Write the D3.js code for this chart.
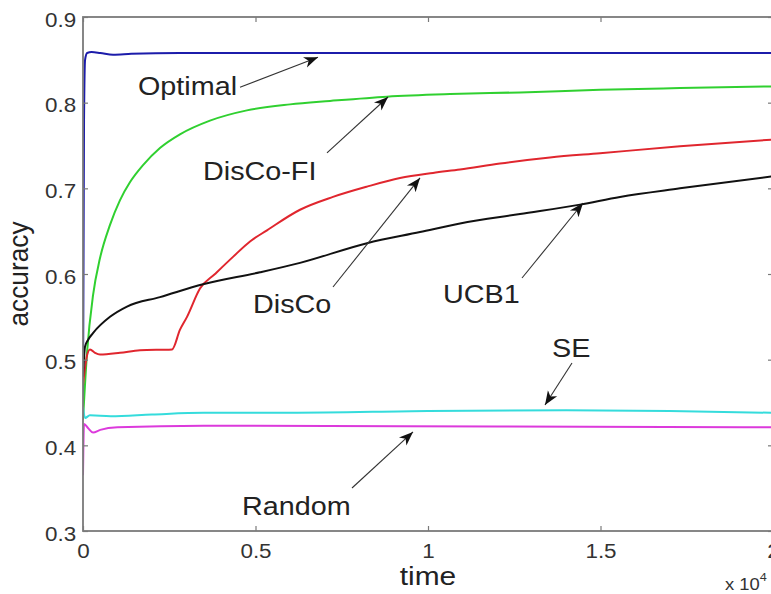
<!DOCTYPE html>
<html>
<head>
<meta charset="utf-8">
<script src="https://cdn.jsdelivr.net/npm/d3@7"></script>
<style>
  body { margin: 0; background: #fff; }
  svg { display: block; font-family: "Liberation Sans", Arial, sans-serif; }
</style>
</head>
<body>
<svg id="chart" width="771" height="594"></svg>
<script>
// values, time in raw steps (axis shows x 10^4)
const optimal = [[0,0.45],[30,0.78],[60,0.85],[120,0.858],[250,0.859],[500,0.858],[870,0.856],[1400,0.857],[2800,0.858],[20000,0.858]];
const discoFI = [[0,0.43],[120,0.51],[290,0.575],[490,0.618],[780,0.657],[1070,0.686],[1360,0.707],[1740,0.727],[2230,0.747],[2810,0.763],[3680,0.779],[4750,0.791],[6000,0.798],[7160,0.802],[8810,0.807],[10640,0.81],[12670,0.812],[14990,0.815],[17300,0.817],[20000,0.819]];
const disco = [[0,0.47],[58,0.49],[116,0.505],[203,0.512],[348,0.508],[493,0.506],[1073,0.508],[1652,0.511],[2580,0.512],[2812,0.535],[3015,0.55],[3391,0.583],[3826,0.6],[4348,0.62],[4841,0.638],[5333,0.651],[6290,0.675],[7246,0.69],[8232,0.702],[9188,0.712],[10145,0.718],[10928,0.722],[12087,0.729],[13536,0.736],[14986,0.741],[17304,0.749],[20000,0.757]];
const ucb1 = [[0,0.48],[58,0.515],[145,0.523],[290,0.531],[783,0.55],[1275,0.562],[2232,0.573],[3478,0.588],[5130,0.602],[6290,0.613],[8232,0.636],[9768,0.649],[10928,0.659],[12667,0.67],[14406,0.681],[15565,0.69],[17304,0.7],[20000,0.714]];
const se = [[0,0.445],[60,0.432],[200,0.435],[800,0.434],[2000,0.436],[3500,0.438],[6000,0.438],[10000,0.44],[14000,0.441],[17000,0.44],[20000,0.438]];
const random = [[0,0.365],[30,0.425],[150,0.42],[290,0.415],[500,0.418],[1000,0.421],[3500,0.423],[12000,0.422],[20000,0.421]];

const seriesNames = ['Optimal','DisCo-FI','DisCo','UCB1','SE','Random'];
const seriesData = [optimal, discoFI, disco, ucb1, se, random];
const seriesColors = ['#1c1caa','#30d030','#e0262e','#111111','#35dcdc','#dc3adc'];

// label anchor, arrow tail, arrow tip (data coords)
const labelPos = [[1594,0.809],[3478,0.7097],[4928,0.5545],[10435,0.5662],[13594,0.5031],[4609,0.3187]];
const arrowFrom = [[4551,0.818],[7072,0.7413],[7246,0.5848],[12725,0.5953],[14174,0.4961],[7797,0.3502]];
const arrowTo = [[6812,0.853],[8841,0.8066],[9768,0.7121],[14493,0.6829],[13391,0.4471],[9565,0.4156]];

const xTicks = [0, 5000, 10000, 15000, 20000];
const yTicks = [0.3, 0.4, 0.5, 0.6, 0.7, 0.8, 0.9];

const svg = d3.select('#chart');
const plotL = 83, plotR = 773, plotT = 17, plotB = 531;
const stretch = 1.15; // text in the figure is a bit wide

const x = d3.scaleLinear().domain([0, 20000]).range([plotL, plotR]);
const y = d3.scaleLinear().domain([0.3, 0.9]).range([plotB, plotT]);

const defs = svg.append('defs');
defs.append('clipPath').attr('id', 'clip')
  .append('rect').attr('x', plotL).attr('y', plotT).attr('width', plotR - plotL).attr('height', plotB - plotT);

const marker = defs.append('marker')
  .attr('id', 'head')
  .attr('markerUnits', 'userSpaceOnUse')
  .attr('viewBox', '-14 -7 16 14')
  .attr('refX', 0).attr('refY', 0)
  .attr('markerWidth', 16).attr('markerHeight', 14)
  .attr('orient', 'auto')
marker.append('path').attr('d', 'M0,0 L-14,-5.5 L-10,0 L-14,5.5 Z').attr('fill', '#111');

// curves
const line = d3.line().x(d => x(d[0])).y(d => y(d[1])).curve(d3.curveMonotoneX);
svg.append('g').attr('clip-path', 'url(#clip)')
  .selectAll('path')
  .data(seriesData)
  .enter()
  .append('path')
  .attr('d', line)
  .attr('fill', 'none')
  .attr('stroke', (d, i) => seriesColors[i])
  .attr('stroke-width', 2)
  .attr('stroke-linejoin', 'round');

// axes, ticks pointing inward like matlab
const axisColor = '#7a7a7a';
const styleAxis = g => {
  g.select('.domain').remove();
  g.selectAll('line').attr('stroke', axisColor).attr('stroke-width', 1.2);
  g.selectAll('text').attr('fill', '#333').style('font-size', '19.5px')
    .attr('transform', `scale(${stretch},1)`);
};

svg.append('g')
  .attr('transform', `translate(0,${plotB})`)
  .call(d3.axisBottom(x).tickValues(xTicks).tickSize(-5).tickPadding(13).tickFormat(d => d / 1e4))
  .call(styleAxis);

svg.append('g')
  .attr('transform', `translate(0,${plotT})`)
  .call(d3.axisTop(x).tickValues(xTicks).tickSize(-5).tickFormat(''))
  .call(styleAxis);

svg.append('g')
  .attr('transform', `translate(${plotL},0)`)
  .call(d3.axisLeft(y).tickValues(yTicks).tickSize(-5).tickPadding(6).tickFormat(d3.format('.1f')))
  .call(styleAxis)
  .selectAll('text').attr('dy', '0.47em');

svg.append('g')
  .attr('transform', `translate(${plotR},0)`)
  .call(d3.axisRight(y).tickValues(yTicks).tickSize(-5).tickFormat(''))
  .call(styleAxis);

svg.append('rect')
  .attr('x', plotL).attr('y', plotT)
  .attr('width', plotR - plotL).attr('height', plotB - plotT)
  .attr('fill', 'none').attr('stroke', axisColor).attr('stroke-width', 1.8);

// annotations
svg.append('g').selectAll('line')
  .data(arrowFrom)
  .enter()
  .append('line')
  .attr('x1', d => x(d[0])).attr('y1', d => y(d[1]))
  .attr('x2', (d, i) => x(arrowTo[i][0])).attr('y2', (d, i) => y(arrowTo[i][1]))
  .attr('stroke', '#333').attr('stroke-width', 1.1)
  .attr('marker-end', 'url(#head)');

svg.append('g').selectAll('text')
  .data(labelPos)
  .enter()
  .append('text')
  .attr('transform', d => `translate(${x(d[0])},${y(d[1])}) scale(${stretch},1)`)
  .attr('fill', '#222')
  .style('font-size', '25px')
  .text((d, i) => seriesNames[i]);

// axis labels
svg.append('text')
  .attr('transform', `translate(${x(10000)},585) scale(${stretch},1)`)
  .attr('text-anchor', 'middle')
  .attr('fill', '#222')
  .style('font-size', '26px')
  .text('time');

svg.append('text')
  .attr('transform', `translate(28,${(plotT + plotB) / 2}) rotate(-90) scale(1.05,1.1)`)
  .attr('text-anchor', 'middle')
  .attr('fill', '#222')
  .style('font-size', '25px')
  .text('accuracy');

const mult = svg.append('text')
  .attr('transform', `translate(725,590) scale(${stretch},1)`)
  .attr('fill', '#333')
  .style('font-size', '16px');
mult.append('tspan').text('x 10');
mult.append('tspan').attr('dy', -9).style('font-size', '11px').text('4');
</script>
</body>
</html>
